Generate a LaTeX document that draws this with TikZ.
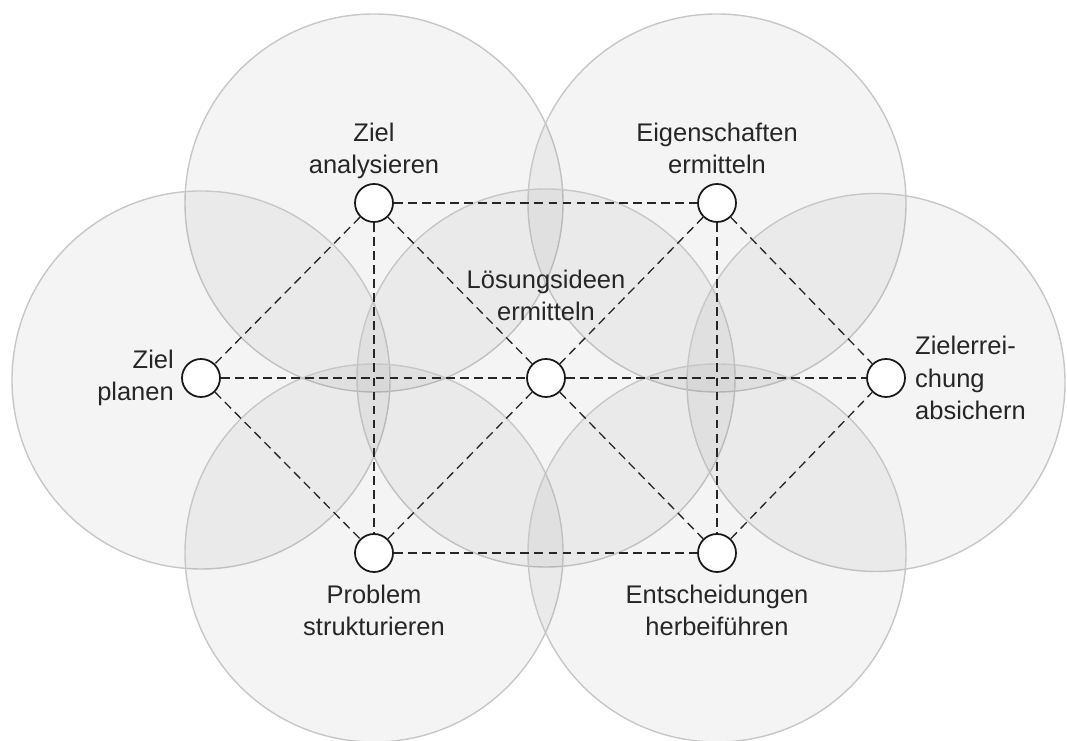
\documentclass[tikz,border=0pt]{standalone}
\usepackage{fontspec}
\setmainfont{Liberation Sans}
\usetikzlibrary{positioning}

\tikzset{
  feld/.style={draw=black!22, line width=0.8pt, fill=black!60, fill opacity=0.07},
  punkt/.style={circle, draw=black!90, line width=1pt, fill=white, minimum size=0.76cm, inner sep=0pt},
  verb/.style={draw=black!85, line width=0.75pt, dash pattern=on 5pt off 3pt},
  lbl/.style={inner sep=0pt, text=black!85, font=\fontsize{14.5}{18.4}\selectfont},
  lbloben/.style={lbl, align=center, text depth=0.25em}
}

\begin{document}
\begin{tikzpicture}
  \useasboundingbox (0,0) rectangle (21.34,14.82);
  % grosse Kreise
  \foreach \x/\y in {7.48/10.76, 14.34/10.76, 4.02/7.22, 10.92/7.26, 17.52/7.17, 7.48/3.76, 14.34/3.76}
    \draw[feld] (\x,\y) circle (3.78);

  % Punkte
  \node[punkt] (za) at (7.48,10.76) {};
  \node[punkt] (ze) at (14.34,10.76) {};
  \node[punkt] (zp) at (4.02,7.26) {};
  \node[punkt] (zl) at (10.92,7.26) {};
  \node[punkt] (zr) at (17.72,7.26) {};
  \node[punkt] (zs) at (7.48,3.76) {};
  \node[punkt] (zh) at (14.34,3.76) {};

  % Verbindungen
  \draw[verb] (za) -- (ze);
  \draw[verb] (za) -- (zp);
  \draw[verb] (za) -- (zs);
  \draw[verb] (za) -- (zl);
  \draw[verb] (ze) -- (zl);
  \draw[verb] (ze) -- (zh);
  \draw[verb] (ze) -- (zr);
  \draw[verb] (zp) -- (zl);
  \draw[verb] (zl) -- (zr);
  \draw[verb] (zp) -- (zs);
  \draw[verb] (zs) -- (zl);
  \draw[verb] (zs) -- (zh);
  \draw[verb] (zl) -- (zh);
  \draw[verb] (zh) -- (zr);

  % Beschriftungen
  \node[lbloben, above=0.09cm of za] (tza) {Ziel\\analysieren};
  \node[lbloben, above=0.09cm of ze] (tze) {Eigenschaften\\ermitteln};
  \node[lbloben, above=0.65cm of zl] (tzl) {L\"osungsideen\\ermitteln};
  \node[lbl, align=right, left=0.14cm of zp] (tzp) {Ziel\\planen};
  \node[lbl, align=left, right=0.18cm of zr] (tzr) {Zielerrei-\\chung\\absichern};
  \node[lbl, align=center, below=0.23cm of zs] (tzs) {Problem\\strukturieren};
  \node[lbl, align=center, below=0.23cm of zh] (tzh) {Entscheidungen\\herbeif\"uhren};
\end{tikzpicture}
\end{document}
